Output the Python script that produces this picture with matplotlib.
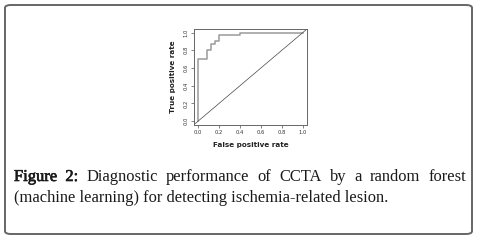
"""ROC curve of the random forest model, with the figure caption below it."""

import matplotlib
matplotlib.use("Agg")
import matplotlib.pyplot as plt
import matplotlib.patheffects as pe
from matplotlib.patches import FancyBboxPatch

# ROC step points
FPR = [0.0, 0.0, 0.08, 0.08, 0.12, 0.12, 0.16, 0.16, 0.20, 0.20, 0.40, 0.40, 1.0]
TPR = [0.0, 0.70, 0.70, 0.80, 0.80, 0.867, 0.867, 0.90, 0.90, 0.967, 0.967, 1.0, 1.0]
TICKS = [0.0, 0.2, 0.4, 0.6, 0.8, 1.0]
TICK_LABELS = ["0.0", "0.2", "0.4", "0.6", "0.8", "1.0"]

CAPTION_HEAD = "Figure 2:"
CAPTION_LINE1 = "Diagnostic performance of CCTA by a random forest"
CAPTION_LINE2 = "(machine learning) for detecting ischemia-related lesion."

W, H = 483, 242
fig = plt.figure(figsize=(W / 100, H / 100), dpi=100)


def px(x, y):
    # pixel position (from top-left) -> figure fraction
    return x / W, 1 - y / H


# rounded outer frame
x0, y1 = px(5, 5)
x1, y0 = px(472, 234)
frame = FancyBboxPatch((x0, y0), x1 - x0, y1 - y0,
                       boxstyle="round,pad=0,rounding_size=0.012",
                       transform=fig.transFigure, facecolor="none",
                       edgecolor="#666666", linewidth=1.4)
fig.patches.append(frame)

# ROC panel
l, t = px(194, 29)
r, b = px(307, 124.6)
ax = fig.add_axes([l, b, r - l, t - b])
ax.plot(FPR, TPR, color="#9a9a9a", linewidth=1.1)
ax.axline((0, 0), (1, 1), color="#444444", linewidth=0.5)
ax.set_xlim(-0.04, 1.04)
ax.set_ylim(-0.04, 1.04)
ax.set_xticks(TICKS)
ax.set_xticklabels(TICK_LABELS)
ax.set_yticks(TICKS)
ax.set_yticklabels(TICK_LABELS, rotation=90, va="center")
ax.tick_params(labelsize=3.8, length=2, width=0.5, color="#555555",
               labelcolor="#333333", pad=2)
for s in ax.spines.values():
    s.set_color("#666666")
    s.set_linewidth(0.7)
ax.set_xlabel("False positive rate", fontsize=5.2, fontweight="bold",
              color="#222222", labelpad=5)
ax.set_ylabel("True positive rate", fontsize=5.2, fontweight="bold",
              color="#222222", labelpad=5)

# caption, first line justified between two edges
serif = "Liberation Serif"
cap_size = 11.9
left_px, right_px = 14, 466
fig.canvas.draw()
renderer = fig.canvas.get_renderer()

heavy = [pe.withStroke(linewidth=0.45, foreground="#1a1a1a")]
words = [(w, True) for w in CAPTION_HEAD.split()] + [(w, False) for w in CAPTION_LINE1.split()]
texts = []
for w, head in words:
    tx = fig.text(0, px(0, 177)[1], w, fontsize=cap_size, family=serif,
                  color="#1a1a1a", va="center", ha="left")
    if head:
        tx.set_path_effects(heavy)
    texts.append(tx)
widths = [tx.get_window_extent(renderer).width for tx in texts]
gap = (right_px - left_px - sum(widths)) / (len(texts) - 1)
x = left_px
for tx, w in zip(texts, widths):
    tx.set_x(x / W)
    x += w + gap

fig.text(left_px / W, px(0, 198)[1], CAPTION_LINE2, fontsize=cap_size, family=serif,
         color="#1a1a1a", va="center", ha="left")

fig.savefig("out.png", dpi=100)
